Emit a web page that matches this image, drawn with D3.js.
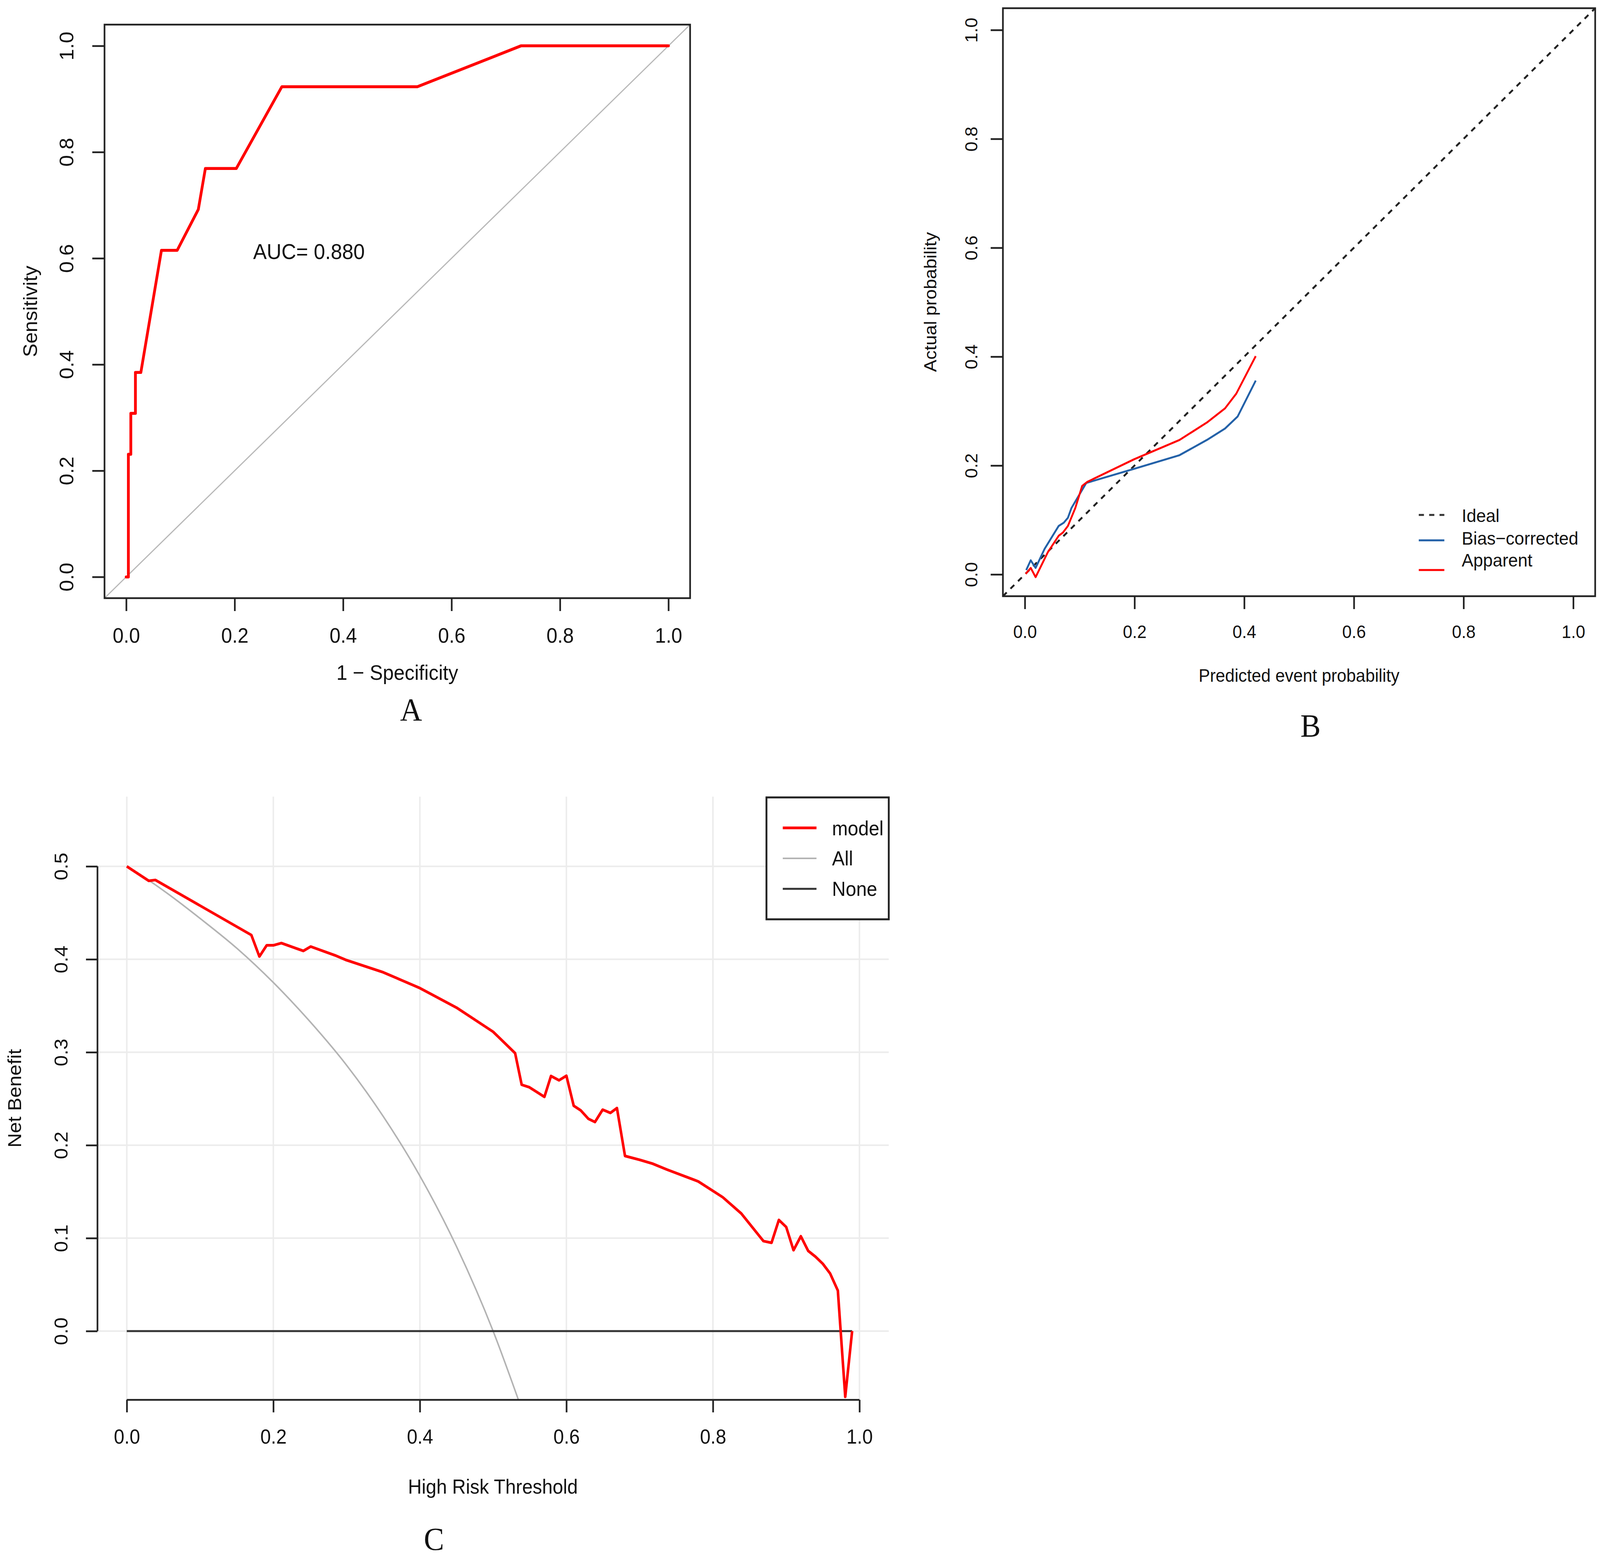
<!DOCTYPE html>
<html lang="en">
<head>
<meta charset="UTF-8">
<title>ROC, calibration and decision curves</title>
<script src="https://d3js.org/d3.v7.min.js"></script>
<style>
  html, body { margin: 0; padding: 0; background: #fff; overflow: hidden; }
  #chart { width: 100vw; height: 100vh; }
  svg { display: block; width: 100%; height: 100%; }
  .sans { font-family: "Liberation Sans", Arial, Helvetica, sans-serif; fill: #111; }
  .tag { font-family: "Liberation Serif", "Times New Roman", serif; fill: #111; }
</style>
</head>
<body>
<div id="chart"></div>
<script>
// ---------- data ----------
// A: ROC curve (1 - specificity, sensitivity)
const rocFpr = [0, 0.004, 0.004, 0.0085, 0.0085, 0.017, 0.017, 0.027, 0.065, 0.094, 0.133, 0.146, 0.203, 0.287, 0.537, 0.728, 1.0];
const rocTpr = [0, 0, 0.231, 0.231, 0.308, 0.308, 0.385, 0.385, 0.615, 0.615, 0.692, 0.769, 0.769, 0.923, 0.923, 1.0, 1.0];
const aucText = "AUC= 0.880";

// B: calibration curves
const appPred = [0.0016, 0.0107, 0.0196, 0.042, 0.0617, 0.0695, 0.0785, 0.092, 0.1045, 0.114, 0.1995, 0.282, 0.332, 0.365, 0.3855, 0.421];
const appAct  = [0.001, 0.012, -0.005, 0.041, 0.071, 0.077, 0.089, 0.122, 0.1625, 0.170, 0.2116, 0.247, 0.279, 0.305, 0.332, 0.401];
const bcPred  = [0.0025, 0.0107, 0.0196, 0.036, 0.0617, 0.071, 0.0785, 0.085, 0.112, 0.1995, 0.282, 0.332, 0.365, 0.388, 0.421];
const bcAct   = [0.008, 0.026, 0.012, 0.047, 0.089, 0.095, 0.104, 0.122, 0.168, 0.194, 0.219, 0.247, 0.268, 0.290, 0.356];
const calLegend = ["Ideal", "Bias\u2212corrected", "Apparent"];

// C: decision curve
const modelThr = [0, 0.030, 0.039, 0.170, 0.181, 0.191, 0.2005, 0.211, 0.241, 0.251, 0.284, 0.30, 0.35, 0.40, 0.45, 0.50,
  0.530, 0.539, 0.5495, 0.570, 0.579, 0.590, 0.600, 0.610, 0.6195, 0.630, 0.639, 0.6495, 0.660, 0.669, 0.680,
  0.700, 0.718, 0.7375, 0.78, 0.8134, 0.8387, 0.869, 0.880, 0.890, 0.900, 0.910, 0.920, 0.930, 0.940, 0.950,
  0.960, 0.9705, 0.9806, 0.990];
const modelNb = [0.5, 0.4844, 0.4853, 0.4261, 0.403, 0.4151, 0.4151, 0.4174, 0.409, 0.4137, 0.4043, 0.399, 0.386, 0.369, 0.348, 0.322,
  0.299, 0.265, 0.2623, 0.252, 0.2744, 0.2698, 0.2747, 0.2424, 0.2375, 0.2284, 0.2249, 0.2382, 0.2347, 0.2399, 0.1884,
  0.1842, 0.180, 0.1737, 0.161, 0.144, 0.1265, 0.0968, 0.095, 0.1195, 0.112, 0.087, 0.102, 0.0863, 0.080, 0.0724,
  0.0619, 0.0436, -0.0707, 0.0];
const allThr = [0, 0.03, 0.05, 0.1, 0.15, 0.2, 0.25, 0.3, 0.35, 0.4, 0.45, 0.5, 0.535];
const allNb  = [0.5, 0.485, 0.474, 0.444, 0.412, 0.375, 0.333, 0.286, 0.231, 0.167, 0.091, 0, -0.075];
const noneThr = [0, 0.99];
const noneNb  = [0, 0];
const dcaLegend = ["model", "All", "None"];

const ticks01 = [0, 0.2, 0.4, 0.6, 0.8, 1.0];
const ticksNb = [0, 0.1, 0.2, 0.3, 0.4, 0.5];

// ---------- helpers ----------
// drawing is laid out on the 4317x3998 reference grid and stretched to the window
const W = 4317, H = 3998;
const fmt = d3.format(".1f");

const svg = d3.select("#chart").append("svg")
  .attr("viewBox", `0 0 ${W} ${H}`)
  .attr("preserveAspectRatio", "none");
svg.append("rect").attr("width", W).attr("height", H).attr("fill", "#fff");
const defs = svg.append("defs");

function zip(xs, ys) { return xs.map((x, i) => [x, ys[i]]); }

function clip(id, x0, y0, x1, y1) {
  defs.append("clipPath").attr("id", id)
    .append("rect").attr("x", x0).attr("y", y0).attr("width", x1 - x0).attr("height", y1 - y0);
  return `url(#${id})`;
}

function xAxis(scale, y, tickLen, labelOff, fs, sw) {
  const ax = svg.append("g").attr("transform", `translate(0,${y})`)
    .call(d3.axisBottom(scale).tickValues(ticks01).tickFormat(fmt).tickSize(tickLen));
  ax.select(".domain").remove();
  ax.selectAll(".tick line").attr("stroke", "#222").attr("stroke-width", sw);
  ax.selectAll(".tick text").attr("class", "sans").attr("y", labelOff).attr("dy", "0.35em")
    .attr("font-size", fs);
  return ax;
}

function yAxis(scale, x, values, tickLen, labelOff, fs, sw) {
  const ax = svg.append("g").attr("transform", `translate(${x},0)`)
    .call(d3.axisLeft(scale).tickValues(values).tickFormat(fmt).tickSize(tickLen));
  ax.select(".domain").remove();
  ax.selectAll(".tick line").attr("stroke", "#222").attr("stroke-width", sw);
  ax.selectAll(".tick text").attr("class", "sans").attr("x", null).attr("dy", "0.35em")
    .attr("text-anchor", "middle").attr("font-size", fs)
    .attr("transform", `translate(${-labelOff},0) rotate(-90)`);
  return ax;
}

function label(x, y, txt, fs, rot, cls) {
  svg.append("text").attr("class", cls || "sans")
    .attr("transform", `translate(${x},${y})` + (rot ? " rotate(-90)" : ""))
    .attr("text-anchor", "middle").attr("dy", "0.35em")
    .attr("font-size", fs).text(txt);
}

// ---------- A: ROC ----------
{
  const box = { l: 282, r: 1862, t: 63, b: 1531 };
  const x = d3.scaleLinear().domain([-0.04, 1.04]).range([box.l, box.r]);
  const y = d3.scaleLinear().domain([-0.04, 1.04]).range([box.b, box.t]);
  const cp = clip("clipA", box.l, box.t, box.r, box.b);
  const line = d3.line().x(d => x(d[0])).y(d => y(d[1]));

  svg.append("path").attr("clip-path", cp)
    .attr("d", line([[-0.04, -0.04], [1.04, 1.04]]))
    .attr("stroke", "#b8b8b8").attr("stroke-width", 3).attr("fill", "none");
  svg.append("path").attr("clip-path", cp)
    .attr("d", line(zip(rocFpr, rocTpr)))
    .attr("stroke", "#ff0000").attr("stroke-width", 7.5).attr("fill", "none")
    .attr("stroke-linejoin", "round").attr("stroke-linecap", "round");

  svg.append("rect").attr("x", box.l).attr("y", box.t)
    .attr("width", box.r - box.l).attr("height", box.b - box.t)
    .attr("fill", "none").attr("stroke", "#222").attr("stroke-width", 4.5);

  xAxis(x, box.b, 33, 95, 53, 4.5);
  yAxis(y, box.l, ticks01, 33, 102, 53, 4.5);

  svg.append("text").attr("class", "sans").attr("x", x(0.337)).attr("y", y(0.613))
    .attr("text-anchor", "middle").attr("dy", "0.35em").attr("font-size", 55).text(aucText);

  label(1072, 1721, "1 \u2212 Specificity", 53);
  label(82, 797, "Sensitivity", 52, true);
  label(1109, 1815, "A", 82, false, "tag");
}

// ---------- B: calibration ----------
{
  const box = { l: 2706, r: 4304, t: 21, b: 1526 };
  const x = d3.scaleLinear().domain([-0.04, 1.04]).range([box.l, box.r]);
  const y = d3.scaleLinear().domain([-0.04, 1.04]).range([box.b, box.t]);
  const cp = clip("clipB", box.l, box.t, box.r, box.b);
  const line = d3.line().x(d => x(d[0])).y(d => y(d[1]));

  svg.append("path").attr("clip-path", cp)
    .attr("d", line([[-0.04, -0.04], [1.04, 1.04]]))
    .attr("stroke", "#222").attr("stroke-width", 5).attr("stroke-dasharray", "14,14")
    .attr("fill", "none");
  svg.append("path").attr("clip-path", cp)
    .attr("d", line(zip(bcPred, bcAct)))
    .attr("stroke", "#2361a8").attr("stroke-width", 5).attr("fill", "none")
    .attr("stroke-linejoin", "round");
  svg.append("path").attr("clip-path", cp)
    .attr("d", line(zip(appPred, appAct)))
    .attr("stroke", "#ff0000").attr("stroke-width", 5).attr("fill", "none")
    .attr("stroke-linejoin", "round");

  svg.append("rect").attr("x", box.l).attr("y", box.t)
    .attr("width", box.r - box.l).attr("height", box.b - box.t)
    .attr("fill", "none").attr("stroke", "#222").attr("stroke-width", 4.5);

  xAxis(x, box.b, 33, 91, 46, 4.5);
  yAxis(y, box.l, ticks01, 33, 85, 46, 4.5);

  label(3505, 1729, "Predicted event probability", 46);
  label(2510, 773, "Actual probability", 47, true);
  label(3536, 1856, "B", 82, false, "tag");

  // legend
  const lg = svg.append("g");
  const rowsText = [1336, 1394, 1450];
  const rowsLine = [1318, 1383, 1459];
  const styles = [
    { stroke: "#333", dash: "14,14", w: 5 },
    { stroke: "#2361a8", dash: null, w: 5 },
    { stroke: "#ff0000", dash: null, w: 5 }
  ];
  calLegend.forEach((t, i) => {
    lg.append("line").attr("x1", 3828).attr("x2", 3897)
      .attr("y1", rowsLine[i]).attr("y2", rowsLine[i])
      .attr("stroke", styles[i].stroke).attr("stroke-width", styles[i].w)
      .attr("stroke-dasharray", styles[i].dash);
    lg.append("text").attr("class", "sans").attr("x", 3944).attr("y", rowsText[i])
      .attr("font-size", 47).text(t);
  });
}

// ---------- C: decision curve ----------
{
  const reg = { l: 263, r: 2398, t: 2039, b: 3583 };
  const x = d3.scaleLinear().domain([-0.04, 1.04]).range([reg.l, reg.r]);
  const y = d3.scaleLinear().domain([-0.074, 0.575]).range([reg.b, reg.t]);
  const cp = clip("clipC", reg.l, reg.t, reg.r, reg.b);
  const line = d3.line().x(d => x(d[0])).y(d => y(d[1]));

  const grid = svg.append("g").attr("stroke", "#ececec").attr("stroke-width", 4);
  grid.selectAll(".gx").data(ticks01).join("line")
    .attr("x1", d => x(d)).attr("x2", d => x(d)).attr("y1", reg.t).attr("y2", reg.b);
  grid.selectAll(".gy").data(ticksNb).join("line")
    .attr("x1", reg.l).attr("x2", reg.r).attr("y1", d => y(d)).attr("y2", d => y(d));

  svg.append("path").attr("clip-path", cp)
    .attr("d", line.curve(d3.curveMonotoneX)(zip(allThr, allNb)))
    .attr("stroke", "#b3b3b3").attr("stroke-width", 4).attr("fill", "none");
  line.curve(d3.curveLinear);
  svg.append("path").attr("clip-path", cp)
    .attr("d", line(zip(noneThr, noneNb)))
    .attr("stroke", "#333").attr("stroke-width", 5).attr("fill", "none");
  svg.append("path").attr("clip-path", cp)
    .attr("d", line(zip(modelThr, modelNb)))
    .attr("stroke", "#ff0000").attr("stroke-width", 7).attr("fill", "none")
    .attr("stroke-linejoin", "round");

  // axes: lines span first to last tick only
  svg.append("line").attr("x1", x(0)).attr("x2", x(1)).attr("y1", reg.b).attr("y2", reg.b)
    .attr("stroke", "#222").attr("stroke-width", 4.5);
  svg.append("line").attr("x1", reg.l).attr("x2", reg.l).attr("y1", y(0)).attr("y2", y(0.5))
    .attr("stroke", "#222").attr("stroke-width", 4.5);
  xAxis(x, reg.b, 32, 94, 51, 4.5);
  yAxis(y, reg.l, ticksNb, 31, 98, 51, 4.5);

  label(1330, 3805, "High Risk Threshold", 51);
  label(39, 2811, "Net Benefit", 51, true);
  label(1171, 3938, "C", 82, false, "tag");

  // legend
  const lg = svg.append("g");
  lg.append("rect").attr("x", 2068).attr("y", 2041).attr("width", 330).attr("height", 312)
    .attr("fill", "#fff").attr("stroke", "#222").attr("stroke-width", 5);
  const rowsLine = [2119, 2197, 2275];
  const rowsText = [2138, 2215, 2293];
  const styles = [
    { stroke: "#ff0000", w: 7 },
    { stroke: "#b3b3b3", w: 4 },
    { stroke: "#333", w: 5 }
  ];
  dcaLegend.forEach((t, i) => {
    lg.append("line").attr("x1", 2112).attr("x2", 2203)
      .attr("y1", rowsLine[i]).attr("y2", rowsLine[i])
      .attr("stroke", styles[i].stroke).attr("stroke-width", styles[i].w);
    lg.append("text").attr("class", "sans").attr("x", 2245).attr("y", rowsText[i])
      .attr("font-size", 51).text(t);
  });
}
</script>
</body>
</html>
